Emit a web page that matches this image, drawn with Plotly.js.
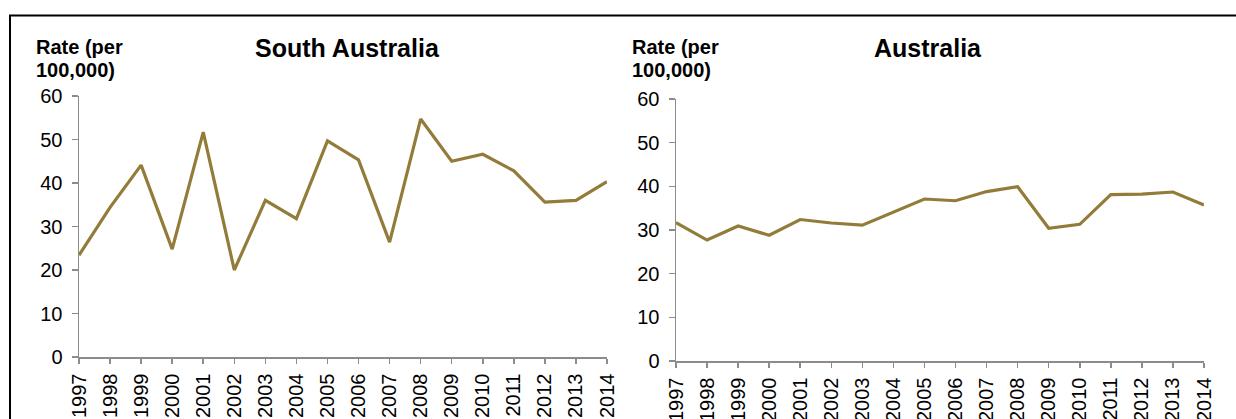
<!DOCTYPE html>
<html>
<head>
<meta charset="utf-8">
<script src="https://cdn.plot.ly/plotly-3.0.1.min.js"></script>
<style>
  html, body { margin: 0; padding: 0; background: #fff; }
  #chart { width: 1236px; height: 419px; }
</style>
</head>
<body>
<div id="chart"></div>
<script>
const YEARS = [1997, 1998, 1999, 2000, 2001, 2002, 2003, 2004, 2005,
    2006, 2007, 2008, 2009, 2010, 2011, 2012, 2013, 2014];

const SA_RATE = [23.4, 34.4, 44.1, 24.8, 51.7, 20.0, 36.0, 31.8, 49.7,
    45.3, 26.4, 54.7, 45.0, 46.6, 42.8, 35.6, 36.0, 40.3];

const AUS_RATE = [31.7, 27.7, 30.9, 28.8, 32.4, 31.6, 31.1, 34.0, 37.1,
    36.7, 38.8, 39.9, 30.4, 31.3, 38.1, 38.2, 38.7, 35.7];

const PANEL_TITLES = ["South Australia", "Australia"];
const Y_LABEL_LINES = ["Rate (per", "100,000)"];

const W = 1236, H = 419;
const LINE_COLOR = "#937c39";
const AXIS_COLOR = "#8c8c8c";
const FONT = "Arial, 'Liberation Sans', sans-serif";

// pixel helpers -> paper fractions
const px = (x) => x / W;
const py = (y) => (H - y) / H;

const traces = [
    {
        x: YEARS, y: SA_RATE, xaxis: "x", yaxis: "y",
        mode: "lines", line: { color: LINE_COLOR, width: 3.2 },
        showlegend: false, hoverinfo: "x+y",
    },
    {
        x: YEARS, y: AUS_RATE, xaxis: "x2", yaxis: "y2",
        mode: "lines", line: { color: LINE_COLOR, width: 3.2 },
        showlegend: false, hoverinfo: "x+y",
    },
];

const xAxisBase = {
    range: [1997, 2014], tickvals: YEARS, ticktext: YEARS.map(String),
    tickangle: -90, ticks: "outside", ticklen: 5, tickwidth: 1.5, tickcolor: AXIS_COLOR,
    showline: true, linecolor: AXIS_COLOR, linewidth: 1.5,
    showgrid: false, zeroline: false, fixedrange: true,
    ticklabelstandoff: 2,
    tickfont: { family: FONT, size: 20, color: "#000" },
};

const yAxisBase = {
    range: [0, 60], dtick: 10, tick0: 0,
    ticks: "outside", ticklen: 6, tickwidth: 1.5, tickcolor: AXIS_COLOR,
    showline: true, linecolor: AXIS_COLOR, linewidth: 1.5,
    showgrid: false, zeroline: false, fixedrange: true,
    ticklabelstandoff: 5,
    tickfont: { family: FONT, size: 20, color: "#000" },
};

function label(text, x, y, size, xanchor) {
    return {
        text: "<b>" + text + "</b>", xref: "paper", yref: "paper",
        x: px(x), y: py(y), xanchor: xanchor, yanchor: "middle",
        showarrow: false, font: { family: FONT, size: size, color: "#000" },
    };
}

const layout = {
    width: W, height: H,
    margin: { t: 0, b: 0, l: 0, r: 0 },
    paper_bgcolor: "#fff", plot_bgcolor: "#fff",
    font: { family: FONT, size: 20, color: "#000" },
    xaxis: { ...xAxisBase, domain: [px(79), px(607)], anchor: "y" },
    yaxis: { ...yAxisBase, domain: [py(357), py(96)], anchor: "x" },
    xaxis2: { ...xAxisBase, domain: [px(676), px(1204)], anchor: "y2" },
    yaxis2: { ...yAxisBase, domain: [py(361), py(99)], anchor: "x2" },
    annotations: [
        label(PANEL_TITLES[0], 347, 48, 25, "center"),
        label(PANEL_TITLES[1], 928, 48, 25, "center"),
        label(Y_LABEL_LINES[0], 34, 47, 20, "left"),
        label(Y_LABEL_LINES[1], 34, 70, 20, "left"),
        label(Y_LABEL_LINES[0], 630, 47, 20, "left"),
        label(Y_LABEL_LINES[1], 630, 70, 20, "left"),
    ],
    // outer frame (top and left edges visible in the crop)
    shapes: [
        {
            type: "line", xref: "paper", yref: "paper",
            x0: px(9), x1: 1, y0: py(15.5), y1: py(15.5),
            line: { color: "#000", width: 2 },
        },
        {
            type: "line", xref: "paper", yref: "paper",
            x0: px(10), x1: px(10), y0: py(15), y1: 0,
            line: { color: "#000", width: 2 },
        },
    ],
};

Plotly.newPlot("chart", traces, layout, { displayModeBar: false, staticPlot: true });
</script>
</body>
</html>
